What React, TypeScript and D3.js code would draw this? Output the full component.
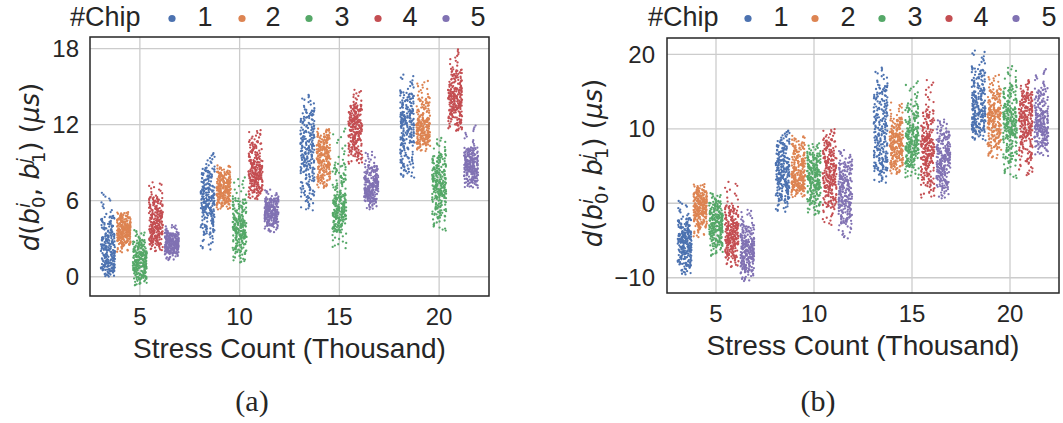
import React, { useMemo } from "react";
import * as d3 from "d3";

// Stress counts (thousand) on the x axis and the chip hue levels
const STRESS_COUNTS = ["5", "10", "15", "20"];
const CHIPS = ["1", "2", "3", "4", "5"];
const CHIP_COLORS = ["#4C72B0", "#DD8452", "#55A868", "#C44E52", "#8172B3"];

// Each strip is described by its distribution summary at these levels:
// [min, p5, q1, median, q3, p95, max]
const QUANTILE_LEVELS = [0, 0.05, 0.25, 0.5, 0.75, 0.95, 1];
const SAMPLES_PER_STRIP = 250;

// Panel (a): one row per stress count (5, 10, 15, 20)
const A_CHIP1 = [
  [0.0, 0.4, 1.1, 2.2, 3.3, 4.8, 6.7],
  [2.1, 3.3, 4.9, 6.0, 7.1, 8.6, 9.8],
  [5.2, 6.2, 8.3, 9.9, 11.5, 13.2, 14.4],
  [7.8, 8.5, 10.5, 12.0, 13.1, 14.6, 16.0],
];
const A_CHIP2 = [
  [1.9, 2.5, 3.1, 3.6, 4.1, 4.8, 5.1],
  [5.3, 5.7, 6.4, 7.0, 7.6, 8.3, 8.8],
  [7.0, 7.5, 8.6, 9.5, 10.3, 11.2, 11.7],
  [9.9, 10.4, 11.1, 11.8, 12.5, 14.2, 15.5],
];
const A_CHIP3 = [
  [-0.7, -0.2, 0.6, 1.3, 2.0, 2.9, 3.7],
  [1.1, 1.8, 3.0, 3.8, 4.7, 6.2, 7.9],
  [2.2, 3.5, 4.6, 5.4, 6.5, 9.0, 11.8],
  [3.6, 4.6, 6.2, 7.3, 8.4, 9.7, 11.0],
];
const A_CHIP4 = [
  [2.0, 2.5, 3.3, 4.2, 5.2, 6.3, 7.5],
  [6.1, 6.6, 7.5, 8.3, 9.2, 10.7, 11.6],
  [8.9, 9.5, 10.7, 11.8, 12.6, 13.6, 14.8],
  [11.5, 12.0, 13.1, 14.0, 14.9, 16.4, 18.0],
];
const A_CHIP5 = [
  [1.3, 1.8, 2.2, 2.6, 3.0, 3.5, 4.1],
  [3.5, 4.0, 4.6, 5.1, 5.6, 6.2, 6.9],
  [5.3, 5.9, 6.5, 7.1, 7.8, 8.8, 9.9],
  [7.0, 7.4, 8.2, 8.8, 9.4, 10.2, 12.0],
];

// Panel (b)
const B_CHIP1 = [
  [-9.6, -8.5, -6.7, -5.2, -3.9, -2.0, 0.4],
  [-1.2, 0.3, 2.3, 4.2, 6.0, 8.5, 9.8],
  [2.7, 4.2, 6.3, 9.5, 12.8, 15.9, 18.3],
  [8.4, 9.5, 10.9, 12.8, 15.2, 18.2, 20.6],
];
const B_CHIP2 = [
  [-4.6, -3.3, -1.6, -0.5, 0.6, 1.8, 2.6],
  [0.8, 1.6, 2.6, 3.9, 5.8, 8.0, 9.1],
  [3.9, 4.8, 6.6, 8.0, 9.4, 11.5, 13.6],
  [6.0, 7.4, 9.6, 11.6, 12.8, 15.4, 17.3],
];
const B_CHIP3 = [
  [-7.1, -5.8, -4.0, -2.7, -1.4, 0.3, 1.4],
  [-1.6, -0.3, 1.8, 3.4, 5.0, 6.8, 8.1],
  [3.3, 4.8, 6.8, 8.3, 10.2, 13.4, 16.5],
  [3.3, 5.4, 8.8, 10.9, 12.8, 15.9, 18.5],
];
const B_CHIP4 = [
  [-8.6, -7.4, -5.6, -4.2, -2.6, -0.3, 3.0],
  [-3.0, -0.6, 2.0, 4.0, 6.2, 8.6, 10.0],
  [0.7, 2.3, 5.3, 7.3, 9.1, 12.6, 16.7],
  [3.7, 5.6, 8.8, 11.0, 13.0, 15.0, 16.6],
];
const B_CHIP5 = [
  [-10.5, -9.3, -7.6, -6.3, -4.9, -2.8, -0.8],
  [-4.8, -2.8, -0.6, 1.3, 3.4, 5.6, 7.2],
  [0.6, 2.0, 4.1, 5.8, 7.5, 9.8, 11.3],
  [6.3, 7.6, 9.4, 10.8, 12.5, 15.5, 18.1],
];

const A_TICKS = [0, 6, 12, 18];
const B_TICKS = [-10, 0, 10, 20];

const TEXT = "#262626";
const SANS = "'Liberation Sans', Arial, sans-serif";
const MATH = "'DejaVu Sans', sans-serif";
const SERIF = "'Liberation Serif', 'Times New Roman', serif";

// Deterministic horizontal jitter in [0, 1) for the i-th dot of the figure
function jitterAt(i: number) {
  let h = Math.imul(i ^ 0x9e3779b9, 0x85ebca6b);
  h ^= h >>> 13;
  h = Math.imul(h, 0xc2b2ae35);
  h ^= h >>> 16;
  return (h >>> 0) / 4294967296;
}

// Strip samples: evenly spaced levels pushed through the strip's inverse CDF
function stripSamples(summary: number[], n: number, start: number) {
  const inverseCdf = d3.scaleLinear().domain(QUANTILE_LEVELS).range(summary);
  const out: { v: number; j: number }[] = [];
  for (let k = 0; k < n; k++) {
    out.push({ v: inverseCdf((k + 0.5) / n), j: jitterAt(start + k) - 0.5 });
  }
  return out;
}

type PanelProps = {
  series: number[][][];
  yDomain: [number, number];
  ticks: number[];
  frame: { left: number; right: number; top: number; bottom: number };
  tickGap: number;
  yLabelPos: [number, number];
  legendX: number;
  legendDots: number[];
  legendLabels: number[];
  caption: string;
  captionX: number;
};

// d(b_0^i, b_1^j) (μs), typeset with stacked super/subscripts
function YLabel({ x, y }: { x: number; y: number }) {
  const fs = 26;
  const ss = 18.2;
  const up = -9.2;
  const down = 15;
  const back = -5;
  return (
    <text
      transform={`translate(${x},${y}) rotate(-90)`}
      textAnchor="middle"
      fontFamily={MATH}
      fontSize={fs}
      fill={TEXT}
      style={{ whiteSpace: "pre" }}
    >
      <tspan fontStyle="italic">d</tspan>
      <tspan>(</tspan>
      <tspan fontStyle="italic">b</tspan>
      <tspan fontStyle="italic" fontSize={ss} dy={up}>i</tspan>
      <tspan fontSize={ss} dx={back} dy={down}>0</tspan>
      <tspan dy={-(up + down)}>, </tspan>
      <tspan fontStyle="italic">b</tspan>
      <tspan fontStyle="italic" fontSize={ss} dy={up}>j</tspan>
      <tspan fontSize={ss} dx={back} dy={down}>1</tspan>
      <tspan dy={-(up + down)}>) (</tspan>
      <tspan fontStyle="italic">μs</tspan>
      <tspan>)</tspan>
    </text>
  );
}

function Panel(props: PanelProps) {
  const { series, yDomain, ticks, frame, tickGap } = props;
  const x = d3.scaleLinear().domain([-0.5, STRESS_COUNTS.length - 0.5]).range([frame.left, frame.right]);
  const y = d3.scaleLinear().domain(yDomain).range([frame.bottom, frame.top]);
  const dodge = 0.8 / CHIPS.length;
  const jitter = 0.14;

  const strips = useMemo(() => {
    const res: { cat: number; chip: number; pts: { v: number; j: number }[] }[] = [];
    STRESS_COUNTS.forEach((_, ci) => {
      CHIPS.forEach((_, hi) => {
        res.push({ cat: ci, chip: hi, pts: stripSamples(series[hi][ci], SAMPLES_PER_STRIP, (ci * 5 + hi) * 1000 + 17) });
      });
    });
    return res;
  }, [series]);

  return (
    <g>
      {ticks.map((t) => (
        <line key={"gy" + t} x1={frame.left} x2={frame.right} y1={y(t)} y2={y(t)} stroke="#cccccc" strokeWidth={1.3} />
      ))}
      {STRESS_COUNTS.map((_, i) => (
        <line key={"gx" + i} x1={x(i)} x2={x(i)} y1={frame.top} y2={frame.bottom} stroke="#cccccc" strokeWidth={1.3} />
      ))}
      {strips.map((s) =>
        s.pts.map((p, k) => (
          <circle
            key={`${s.cat}-${s.chip}-${k}`}
            cx={x(s.cat + (s.chip - (CHIPS.length - 1) / 2) * dodge + p.j * jitter)}
            cy={y(p.v)}
            r={1.15}
            fill={CHIP_COLORS[s.chip]}
          />
        ))
      )}
      <rect
        x={frame.left}
        y={frame.top}
        width={frame.right - frame.left}
        height={frame.bottom - frame.top}
        fill="none"
        stroke={TEXT}
        strokeWidth={1.5}
      />
      {ticks.map((t) => (
        <text key={"ty" + t} x={frame.left - tickGap} y={y(t)} dy="0.36em" textAnchor="end" fontFamily={SANS} fontSize={24} fill={TEXT}>
          {t < 0 ? "\u2212" + Math.abs(t) : String(t)}
        </text>
      ))}
      {STRESS_COUNTS.map((c, i) => (
        <text key={"tx" + c} x={x(i)} y={frame.bottom + 29} textAnchor="middle" fontFamily={SANS} fontSize={24} fill={TEXT}>
          {c}
        </text>
      ))}
      <text x={(frame.left + frame.right) / 2} y={frame.bottom + 62} textAnchor="middle" fontFamily={SANS} fontSize={28} fill={TEXT}>
        Stress Count (Thousand)
      </text>
      <YLabel x={props.yLabelPos[0]} y={props.yLabelPos[1]} />
      <text x={props.legendX} y={26} textAnchor="start" fontFamily={SANS} fontSize={27} fill={TEXT}>
        #Chip
      </text>
      {CHIPS.map((c, i) => (
        <g key={"lg" + c}>
          <circle cx={props.legendDots[i]} cy={18.5} r={3.6} fill={CHIP_COLORS[i]} />
          <text x={props.legendLabels[i]} y={26} textAnchor="middle" fontFamily={SANS} fontSize={27} fill={TEXT}>
            {c}
          </text>
        </g>
      ))}
      <text x={props.captionX} y={411} textAnchor="middle" fontFamily={SERIF} fontSize={30} fill={TEXT}>
        {props.caption}
      </text>
    </g>
  );
}

export default function App() {
  const seriesA = [A_CHIP1, A_CHIP2, A_CHIP3, A_CHIP4, A_CHIP5];
  const seriesB = [B_CHIP1, B_CHIP2, B_CHIP3, B_CHIP4, B_CHIP5];
  return (
    <svg
      width={1063}
      height={423}
      viewBox="0 0 1063 423"
      style={{ position: "absolute", left: 0, top: 0, background: "#fff" }}
    >
      <rect width={1063} height={423} fill="#fff" />
      <Panel
        series={seriesA}
        yDomain={[-1.52, 18.92]}
        ticks={A_TICKS}
        frame={{ left: 90, right: 489, top: 37, bottom: 296 }}
        tickGap={11}
        yLabelPos={[39, 167]}
        legendX={70}
        legendDots={[172, 242, 309, 378, 446]}
        legendLabels={[205, 273, 342, 410, 478]}
        caption="(a)"
        captionX={252}
      />
      <Panel
        series={seriesB}
        yDomain={[-12.05, 22.19]}
        ticks={B_TICKS}
        frame={{ left: 667, right: 1059, top: 38, bottom: 293 }}
        tickGap={12}
        yLabelPos={[602, 163]}
        legendX={648}
        legendDots={[748, 815, 882, 949, 1016]}
        legendLabels={[781, 848, 915, 981, 1049]}
        caption="(b)"
        captionX={818}
      />
    </svg>
  );
}
